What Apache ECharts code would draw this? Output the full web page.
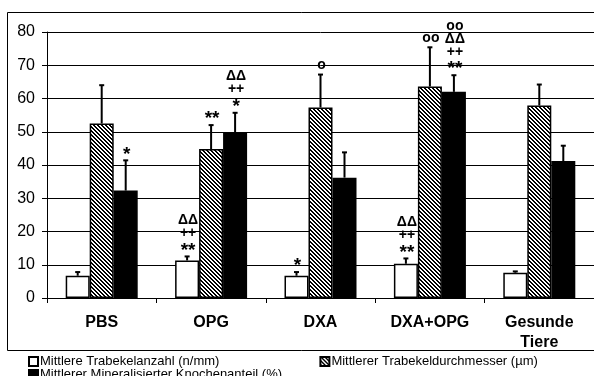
<!DOCTYPE html>
<html>
<head>
<meta charset="utf-8">
<script src="https://cdn.jsdelivr.net/npm/echarts@6/dist/echarts.min.js"></script>
<style>
html,body{margin:0;padding:0;background:#fff;}
#c{width:594px;height:376px;}
</style>
</head>
<body>
<div id="c"></div>
<script>
// ---- data ----
const categories = ['PBS', 'OPG', 'DXA', 'DXA+OPG', 'Gesunde\nTiere'];
const seriesNames = [
  'Mittlere Trabekelanzahl (n/mm)',
  'Mittlerer Trabekeldurchmesser (µm)',
  'Mittlerer Mineralisierter Knochenanteil (%)'
];
const anzahl = [6.7, 11.3, 6.7, 10.3, 7.6];
const anzahlErrTop = [7.8, 12.5, 7.8, 11.9, 8.0];
const durchmesser = [52.5, 44.8, 57.3, 63.6, 57.9];
const durchmesserErrTop = [64.0, 52.0, 67.2, 75.4, 64.2];
const anteil = [32.3, 49.8, 36.2, 62.0, 41.2];
const anteilErrTop = [41.4, 55.7, 43.8, 67.0, 45.8];
const anzahlSig = ['', 'ΔΔ\n++\n**', '*', 'ΔΔ\n++\n**', ''];
const durchmesserSig = ['', '**', 'o', 'oo', ''];
const anteilSig = ['*', 'ΔΔ\n++\n*', '', 'oo\nΔΔ\n++\n**', ''];
const yTicks = {min: 0, max: 80, interval: 10};

// ---- hatch pattern ----
function makeHatch() {
  const p = 4;
  const cv = document.createElement('canvas');
  cv.width = p; cv.height = p;
  const ctx = cv.getContext('2d');
  const img = ctx.createImageData(p, p);
  for (let y = 0; y < p; y++) {
    for (let x = 0; x < p; x++) {
      const m = (((x - y) % p) + p) % p;
      const v = m < 2 ? 0 : 255;
      const i = (y * p + x) * 4;
      img.data[i] = v; img.data[i + 1] = v; img.data[i + 2] = v; img.data[i + 3] = 255;
    }
  }
  ctx.putImageData(img, 0, 0);
  return cv;
}
const hatch = makeHatch();

const FONT = "'Liberation Sans', Arial, sans-serif";
const BAR_W = 24;
const fills = ['#ffffff', {image: hatch, repeat: 'repeat'}, '#000000'];
const values = [anzahl, durchmesser, anteil];
const errTops = [anzahlErrTop, durchmesserErrTop, anteilErrTop];
const sigs = [anzahlSig, durchmesserSig, anteilSig];

function sigText(str, x, y, size, va) {
  return {
    type: 'text',
    style: {
      text: str, x: x, y: y, align: 'center', verticalAlign: va,
      fontSize: size, fontWeight: 'bold', fontFamily: FONT,
      lineHeight: 13, fill: '#000'
    }
  };
}

const series = [];
for (let s = 0; s < 3; s++) {
  series.push({
    name: seriesNames[s],
    type: 'bar',
    barWidth: BAR_W,
    barGap: '0%',
    data: values[s],
    itemStyle: {color: fills[s], borderColor: '#000', borderWidth: 1.5},
    emphasis: {disabled: true},
    z: 2
  });
}
for (let s = 0; s < 3; s++) {
  const offset = (s - 1) * BAR_W;
  series.push({
    type: 'custom',
    name: 'err' + s,
    z: 3,
    data: values[s].map((v, i) => [i, v, errTops[s][i]]),
    encode: {x: 0, y: 2},
    renderItem: function (params, api) {
      const i = api.value(0);
      const base = api.coord([i, api.value(1)]);
      const top = api.coord([i, api.value(2)]);
      const x = base[0] + offset;
      const ty = top[1];
      const children = [
        {type: 'line', shape: {x1: x, y1: base[1], x2: x, y2: ty}, style: {stroke: '#000', lineWidth: 2}},
        {type: 'line', shape: {x1: x - 2.5, y1: ty, x2: x + 2.5, y2: ty}, style: {stroke: '#000', lineWidth: 2}}
      ];
      const txt = sigs[s][params.dataIndex];
      if (txt) {
        const lines = txt.split('\n');
        const last = lines[lines.length - 1];
        if (last.indexOf('*') >= 0) {
          children.push(sigText(last, x + 1, ty - 6, 19, 'middle'));
          const rest = lines.slice(0, -1).join('\n');
          if (rest) children.push(sigText(rest, x + 1, ty - 17, 14, 'bottom'));
        } else {
          children.push(sigText(txt, x + 1, ty - 3, 14, 'bottom'));
        }
      }
      return {type: 'group', children: children};
    }
  });
}

const chart = echarts.init(document.getElementById('c'), null, {renderer: 'canvas'});
chart.setOption({
  animation: false,
  backgroundColor: '#fff',
  grid: {left: 47, top: 32, width: 550, height: 266},
  xAxis: {
    type: 'category',
    data: categories,
    axisLine: {lineStyle: {color: '#000', width: 1}},
    axisTick: {show: true, length: 5, lineStyle: {color: '#000'}},
    axisLabel: {
      color: '#000', fontSize: 16, fontWeight: 'bold', fontFamily: FONT,
      margin: 15, lineHeight: 20, interval: 0
    }
  },
  yAxis: {
    type: 'value',
    min: yTicks.min, max: yTicks.max, interval: yTicks.interval,
    axisLine: {show: true, lineStyle: {color: '#000', width: 1}},
    axisTick: {show: true, length: 5, lineStyle: {color: '#000'}},
    axisLabel: {color: '#000', fontSize: 16, fontFamily: FONT, margin: 12},
    splitLine: {show: true, lineStyle: {color: '#000', width: 1}}
  },
  legend: [
    {
      data: [seriesNames[0], seriesNames[1]],
      left: 28, top: 355, padding: 0,
      itemWidth: 9, itemHeight: 9, itemGap: 100,
      icon: 'rect', selectedMode: false,
      textStyle: {color: '#000', fontSize: 13, fontFamily: FONT, padding: [0, 0, 0, -3]}
    },
    {
      data: [seriesNames[2]],
      left: 28, top: 368, padding: 0,
      itemWidth: 9, itemHeight: 9,
      icon: 'rect', selectedMode: false,
      textStyle: {color: '#000', fontSize: 13, fontFamily: FONT, padding: [0, 0, 0, -3]}
    }
  ],
  graphic: [
    {
      type: 'rect', silent: true, z: -1,
      shape: {x: 7.5, y: 12.5, width: 640, height: 338},
      style: {fill: 'none', stroke: '#000', lineWidth: 1}
    }
  ],
  series: series
});
</script>
</body>
</html>
